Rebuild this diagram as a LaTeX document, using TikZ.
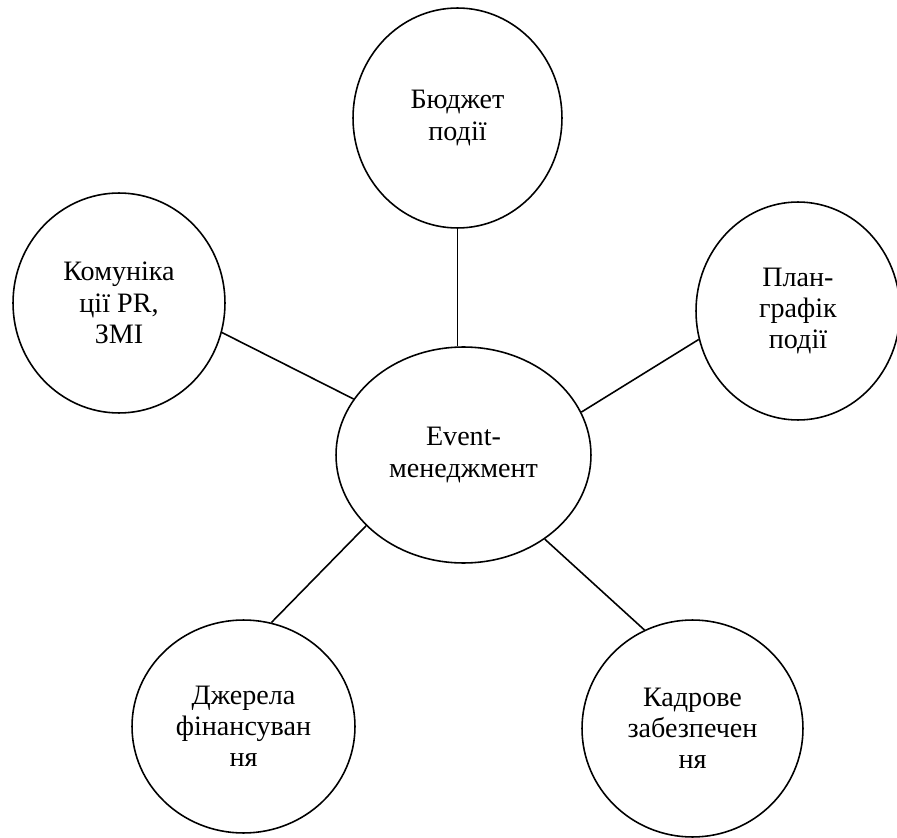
\documentclass[tikz,border=0pt]{standalone}
\usepackage{fontspec}
\setmainfont{Liberation Serif}
\usetikzlibrary{shapes.geometric}

\begin{document}
\begin{tikzpicture}
[x=0.02cm, y=-0.02cm, line width=0.9pt, bubble/.style={draw, ellipse, inner sep=0pt, align=center, font=\fontsize{16}{17.8}\selectfont}]

\useasboundingbox (0,0) rectangle (897,838);
%\draw[dashed] (0,0) rectangle (897,838);

\node[bubble, minimum width=5.1cm, minimum height=4.32cm] (event) at(463.5,455) {Event-\\менеджмент};


\node[bubble, minimum width=4.18cm, minimum height=4.4cm] (budget) at(457.5,118) {Бюджет\\події};

\node[bubble, minimum width=4.24cm, minimum height=4.4cm] (comm) at(119,303) {Комуніка\\ції PR,\\ЗМІ};

\node[bubble, minimum width=4.08cm, minimum height=4.36cm] (plan) at(798,311) {План-\\графік\\події};

\node[bubble, minimum width=4.46cm, minimum height=4.26cm] (finance) at(243.5,726.5) {Джерела\\фінансуван\\ня};

\node[bubble, minimum width=4.42cm, minimum height=4.34cm] (staff) at(692.5,728.5) {Кадрове\\забезпечен\\ня};


\draw (budget.south) -- (budget.south |- event.north);
\draw (comm.-16) -- (event.153);
\draw (plan.196) -- (event.20);
\draw (finance.75) -- (event.216);
\draw (staff.116) -- (event.-46);

\end{tikzpicture}
\end{document}
